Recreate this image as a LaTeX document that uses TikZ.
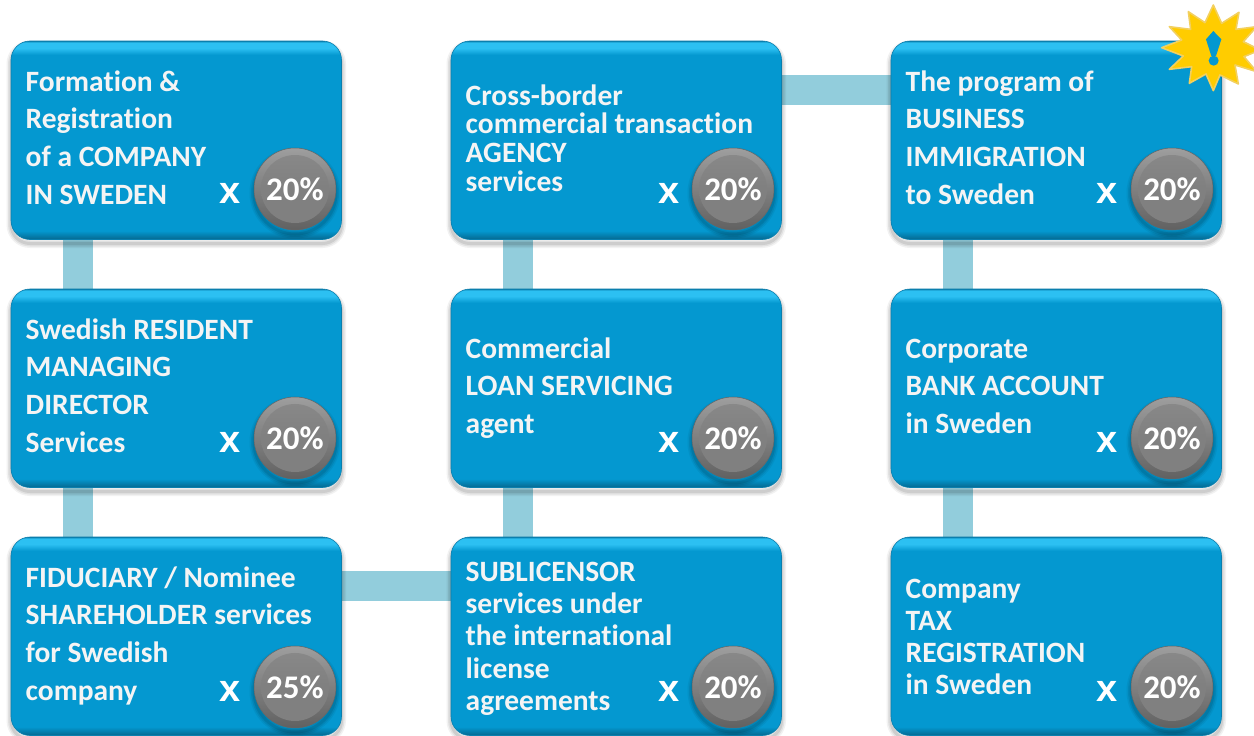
\documentclass[tikz,border=0pt]{standalone}
\usepackage{fontspec}
\setmainfont[Ligatures=NoCommon]{Carlito}
\newfontfamily\timesfont{Liberation Sans}
\usetikzlibrary{backgrounds}
\definecolor{conn}{HTML}{92CDDC}
\definecolor{txt}{HTML}{F4F4F4}
\definecolor{cardedge}{HTML}{0A7FAE}
\definecolor{cardmain}{HTML}{0498D0}
\definecolor{carddark}{HTML}{05688F}
\definecolor{cardlight}{HTML}{2CC0F2}
\definecolor{starfill}{HTML}{FFCC00}
\definecolor{staredge}{HTML}{F2D060}
\pgfdeclareverticalshading{cardshade}{100bp}{
  color(0bp)=(carddark);
  color(25bp)=(carddark);
  color(27.2bp)=(cardmain);
  color(71.5bp)=(cardmain);
  color(73.2bp)=(cardlight);
  color(74.6bp)=(cardlight);
  color(75bp)=(cardedge);
  color(100bp)=(cardedge)}
\pgfdeclareverticalshading{ballshade}{100bp}{
  color(0bp)=(black!62);
  color(25bp)=(black!62);
  color(50bp)=(black!50);
  color(75bp)=(black!38);
  color(100bp)=(black!38)}
\pgfdeclareverticalshading{ballcore}{100bp}{
  color(0bp)=(black!50);
  color(50bp)=(black!50);
  color(75bp)=(black!46);
  color(100bp)=(black!46)}
\tikzset{
  x=1pt,y=-1pt,
  softshadow/.style={
    preaction={draw=black,draw opacity=.05,line width=9pt,transform canvas={yshift=-4pt}},
    preaction={draw=black,draw opacity=.07,line width=6pt,transform canvas={yshift=-4pt}},
    preaction={draw=black,draw opacity=.09,line width=3pt,transform canvas={yshift=-4pt}}},
  card/.style={softshadow,anchor=north west,rectangle,rounded corners=19pt,minimum width=330.5pt,
    minimum height=198.5pt,inner sep=0pt,outer sep=0pt,draw=cardedge,line width=.6pt,shading=cardshade},
  link/.style={draw=conn,line width=30pt},
  cardtext/.style={anchor=north west,inner sep=0pt,align=left,text=txt,font=\fontsize{29.5}{#1}\selectfont\bfseries},
  times/.style={inner sep=0pt,text=white,font=\fontsize{38}{38}\selectfont\timesfont\bfseries},
  ball/.style={softshadow,circle,minimum size=82pt,inner sep=0pt,shading=ballshade,draw=black!60,line width=.5pt,text=white,
    font=\fontsize{33}{33}\selectfont\bfseries,
    path picture={\shade[shading=ballcore] (path picture bounding box.center) circle (34pt);}}
}
% #1 id, #2 box x, #3 box y, #4 first baseline y, #5 line spacing, #6 text, #7 x-mark x, #8 ball x, #9 percent
\newcommand{\card}[9]{
  \node[card] (#1) at (#2,#3) {};
  \node[cardtext={#5}] (#1t) at ({#2+14.5},{#4-20}) {\rule{0pt}{21pt}#6};
  \node[times] (#1x) at (#7,{(#3-41)*1.004+41+152.5}) {x};
  \node[ball] (#1b) at (#8,{(#3-41)*1.004+41+148}) {#9};
}
\begin{document}
\begin{tikzpicture}
\useasboundingbox (0,0) rectangle (1254,736);
\card{a}{11}{41}{90}{37.6}{Formation \&\\Registration\\of a COMPANY\\IN SWEDEN}{230}{295}{20\%}
\card{b}{11}{289}{338}{37.6}{Swedish RESIDENT\\MANAGING\\DIRECTOR\\Services}{230}{295}{20\%}
\card{c}{11}{537}{586}{37.6}{FIDUCIARY / Nominee\\SHAREHOLDER services\\for Swedish\\company}{230}{295}{25\%}
\card{d}{451}{41}{104}{28.7}{Cross-border\\commercial transaction\\AGENCY\\services}{669}{733}{20\%}
\card{e}{451}{289}{357}{37.6}{Commercial\\LOAN SERVICING\\agent}{669}{733}{20\%}
\card{f}{451}{537}{580}{32.3}{SUBLICENSOR\\services under\\the international\\license\\agreements}{669}{733}{20\%}
\card{g}{891}{41}{90}{37.6}{The program of\\BUSINESS\\IMMIGRATION\\to Sweden}{1107}{1172}{20\%}
\card{h}{891}{289}{357}{37.6}{Corporate\\BANK ACCOUNT\\in Sweden}{1107}{1172}{20\%}
\card{i}{891}{537}{597}{32}{Company\\TAX\\REGISTRATION\\in Sweden}{1107}{1172}{20\%}
\begin{scope}[on background layer]
  \foreach \p/\q in {a/b,b/c,f/e,e/d,g/h,h/i}
    \draw[link] ([xshift=67pt]\p.south west) -- ([xshift=67pt]\q.north west);
  \foreach \p/\q in {c/f,d/g}
    \draw[link] ([yshift=-49pt]\p.north east) -- ([yshift=-49pt]\q.north west);
\end{scope}
% starburst
\begin{scope}[shift={(1100,0)},x=.3333pt,y=-.3333pt]
  \draw[fill=starfill,draw=staredge,line width=1.6pt,line join=round]
    (340,15)--(365,70)--(417,37)--(408,88)--(470,80)--(430,125)--(480,150)--(432,170)--(470,215)--(405,195)
    --(415,252)--(360,225)--(340,272)--(318,222)--(268,250)--(275,200)--(208,208)--(250,168)--(185,143)
    --(245,120)--(208,80)--(272,88)--(265,35)--(315,68)--cycle;
  \fill[cardmain] (340,93)--(364,118)--(348,168)--(334,168)--(318,118)--cycle;
  \fill[cardmain] (341,182) circle (15);
\end{scope}
\end{tikzpicture}
\end{document}
